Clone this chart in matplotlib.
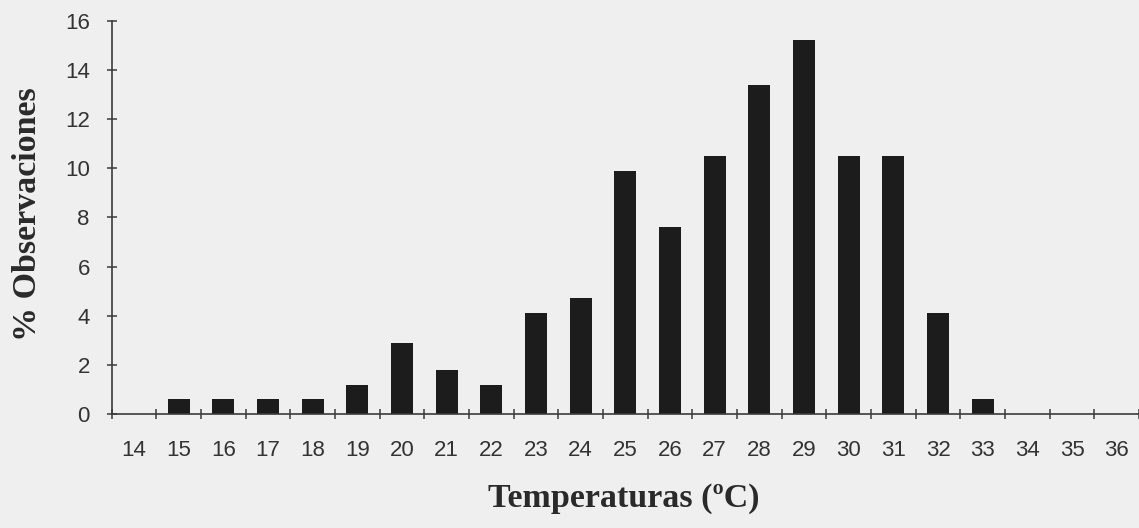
import matplotlib
matplotlib.use("Agg")
import matplotlib.pyplot as plt
import numpy as np

# Data
temperaturas = [14, 15, 16, 17, 18, 19, 20, 21, 22, 23, 24, 25,
                26, 27, 28, 29, 30, 31, 32, 33, 34, 35, 36]
observaciones = [0, 0.6, 0.6, 0.6, 0.6, 1.2, 2.9, 1.8, 1.2, 4.1, 4.7, 9.9,
                 7.6, 10.5, 13.4, 15.2, 10.5, 10.5, 4.1, 0.6, 0, 0, 0]
y_ticks = [0, 2, 4, 6, 8, 10, 12, 14, 16]

W, H = 1139, 528
bg = "#efefef"
fig = plt.figure(figsize=(W / 100, H / 100), dpi=100, facecolor=bg)

left, right = 111.7 / W, 1.0
bottom, top = 1 - 414 / H, 1 - 20.7 / H
ax = fig.add_axes([left, bottom, right - left, top - bottom], facecolor=bg)

x = np.arange(len(temperaturas))
ax.bar(x, observaciones, width=0.49, color="#1c1c1c", linewidth=0)

ax.set_xlim(-0.5, len(temperaturas) - 0.5)
ax.set_ylim(0, 16)

for s in ["top", "right"]:
    ax.spines[s].set_visible(False)
for s in ["left", "bottom"]:
    ax.spines[s].set_color("#3a3a3a")
    ax.spines[s].set_linewidth(1.2)

ax.set_xticks(x)
ax.set_xticklabels([str(t) for t in temperaturas])
ax.set_xticks(np.arange(len(temperaturas) + 1) - 0.5, minor=True)
ax.tick_params(axis="x", which="major", length=0, pad=19,
               labelsize=16, labelcolor="#333333")
ax.tick_params(axis="x", which="minor", direction="inout", length=7.5,
               width=1.1, color="#3a3a3a")

ax.set_yticks(y_ticks)
ax.set_yticklabels([str(v) for v in y_ticks])
ax.tick_params(axis="y", which="major", direction="inout", length=7.5,
               width=1.1, color="#3a3a3a", pad=12,
               labelsize=16, labelcolor="#333333")

for lab in ax.get_xticklabels() + ax.get_yticklabels():
    lab.set_family(["Liberation Sans", "DejaVu Sans"])

fig.text(624 / W, 1 - 498 / H, "Temperaturas (ºC)",
         ha="center", va="center", fontsize=24.5, fontweight="bold",
         family=["Liberation Serif", "DejaVu Serif"], color="#2a2a2a")
fig.text(27 / W, 1 - 214 / H, "% Observaciones", rotation=90,
         ha="center", va="center", fontsize=24.5, fontweight="bold",
         family=["Liberation Serif", "DejaVu Serif"], color="#2a2a2a")

fig.savefig("out.png", dpi=100, facecolor=bg)
